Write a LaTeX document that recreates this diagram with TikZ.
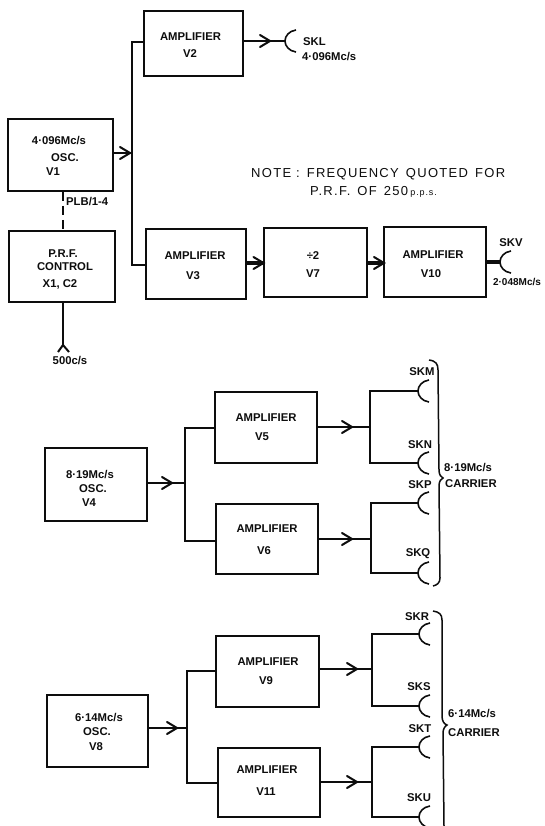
\documentclass[tikz,border=0pt]{standalone}
\usepackage{fontspec}
\setmainfont{Liberation Sans}
\tikzset{
  x=1pt,y=-1pt,
  box/.style={draw=ink,line width=1.7pt,fill=none,inner sep=0pt},
  lab/.style={inner sep=0pt,text=ink,font=\fontsize{11.3}{12}\selectfont\bfseries},
  llab/.style={lab,anchor=west},
  nlab/.style={inner sep=0pt,text=ink,anchor=west,font=\fontsize{13}{14}\selectfont\addfontfeature{LetterSpace=10}},
  wire/.style={draw=ink,line width=2.7pt,line join=miter},
  fat/.style={draw=ink,line width=4.2pt},
  thinl/.style={draw=ink,line width=1.5pt},
  socket/.pic={\draw[draw=ink,line width=1.6pt] (11,-11) .. controls (4,-10) and (0,-5) .. (0,0) .. controls (0,5) and (4,10) .. (11,11);},
  barb/.pic={\draw[draw=ink,line width=2pt,line cap=round] (-10,-6) -- (0,0) -- (-10,6);},
}
\definecolor{ink}{gray}{0.05}
\begin{document}
\begin{tikzpicture}
\useasboundingbox[fill=white] (0,0) rectangle (544,826);
% boxes
\node[box,minimum width=99pt,minimum height=65pt] (v2) at (193.5,43.5) {};
\node[box,minimum width=105pt,minimum height=72pt] (v1) at (60.5,155) {};
\node[box,minimum width=106pt,minimum height=71pt] (prf) at (62,266.5) {};
\node[box,minimum width=100pt,minimum height=70pt] (v3) at (196,264) {};
\node[box,minimum width=103pt,minimum height=69pt] (v7) at (315.5,262.5) {};
\node[box,minimum width=102pt,minimum height=70pt] (v10) at (435,262) {};
\node[box,minimum width=102pt,minimum height=73pt] (v4) at (96,484.5) {};
\node[box,minimum width=102pt,minimum height=71pt] (v5) at (266,427.5) {};
\node[box,minimum width=102pt,minimum height=70pt] (v6) at (267,539) {};
\node[box,minimum width=101pt,minimum height=72pt] (v8) at (97.5,731) {};
\node[box,minimum width=103pt,minimum height=71pt] (v9) at (267.5,671.5) {};
\node[box,minimum width=102pt,minimum height=69pt] (v11) at (269,782.5) {};
% box texts
\node[lab] (t2a) at (190.5,37) {AMPLIFIER};
\node[lab] (t2b) at (190,54) {V2};
\node[lab] (t1a) at (59,141) {4·096Mc/s};
\node[lab] (t1b) at (65,158) {OSC.};
\node[lab] (t1c) at (53,172) {V1};
\node[lab] (tpa) at (63,254) {P.R.F.};
\node[lab] (tpb) at (65,267) {CONTROL};
\node[lab] (tpc) at (60,284) {X1, C2};
\node[lab] (t3a) at (195,256) {AMPLIFIER};
\node[lab] (t3b) at (193,276) {V3};
\node[lab] (t7a) at (313,256) {÷2};
\node[lab] (t7b) at (313,274) {V7};
\node[lab] (t10a) at (433,255) {AMPLIFIER};
\node[lab] (t10b) at (431,274) {V10};
\node[lab] (t4a) at (90,475) {8·19Mc/s};
\node[lab] (t4b) at (93,489) {OSC.};
\node[lab] (t4c) at (89,503) {V4};
\node[lab] (t5a) at (266,418) {AMPLIFIER};
\node[lab] (t5b) at (262,437) {V5};
\node[lab] (t6a) at (267,529) {AMPLIFIER};
\node[lab] (t6b) at (264,551) {V6};
\node[lab] (t8a) at (99,718) {6·14Mc/s};
\node[lab] (t8b) at (97,732) {OSC.};
\node[lab] (t8c) at (96,747) {V8};
\node[lab] (t9a) at (268,662) {AMPLIFIER};
\node[lab] (t9b) at (266,681) {V9};
\node[lab] (t11a) at (267,770) {AMPLIFIER};
\node[lab] (t11b) at (266,792) {V11};
% other labels
\node[llab] (plb) at (66,202) {PLB/1-4};
\node[lab] (c500) at (70,361) {500c/s};
\node[llab] (skl) at (303,42) {SKL};
\node[llab] (f1) at (302,57) {4·096Mc/s};
\node[lab] (skv) at (511,243) {SKV};
\node[lab,font=\fontsize{10}{12}\selectfont\bfseries] (f2) at (517,282) {2·048Mc/s};
\node[nlab] (note1) at (251,174) {NOTE :\, FREQUENCY\, QUOTED\, FOR};
\node[nlab] (note2) at (310,192) {P.R.F.\, OF\, 250\,{\fontsize{9}{10}\selectfont p.p.s.}};
\node[lab] (lm) at (422,372) {SKM};
\node[lab] (ln) at (420,445) {SKN};
\node[lab] (lp) at (420,485) {SKP};
\node[lab] (lq) at (418,554) {SKQ};
\node[lab] (lr) at (417,617) {SKR};
\node[lab] (ls) at (419,687) {SKS};
\node[lab] (lt) at (420,729) {SKT};
\node[lab] (lu) at (419,798) {SKU};
\node[llab] (c8a) at (444,468) {8·19Mc/s};
\node[llab] (c8b) at (445,484) {CARRIER};
\node[llab] (c6a) at (448,714) {6·14Mc/s};
\node[llab] (c6b) at (448,733) {CARRIER};
% coordinates
\coordinate (sl) at (285,41);
\coordinate (sv) at (500,262);
\coordinate (sm) at (418,391);
\coordinate (sn) at (418,463);
\coordinate (sp) at (418,503);
\coordinate (sq) at (418,573);
\coordinate (sr) at (419,634);
\coordinate (ss) at (419,706);
\coordinate (st) at (419,747);
\coordinate (su) at (419,817);
\coordinate (ja) at (132,153);
\coordinate (jb) at (185,483);
\coordinate (jc) at (187,728);
\coordinate (jd) at (300,263);
\coordinate (ta) at (132,42);
\coordinate (tb) at (132,265);
\coordinate (tc) at (185,428);
\coordinate (td) at (185,541);
\coordinate (te) at (187,671);
\coordinate (tf) at (187,783);
\coordinate (ob) at (370,427);
\coordinate (oc) at (371,539);
\coordinate (od) at (372,669);
\coordinate (oe) at (372,782);
\coordinate (fork) at (63,345);
\coordinate (forkl) at (58,352);
\coordinate (forkr) at (69,352);
% top group
\draw[wire] (ta -| v2.west) -- (ta) -- (tb) -- (tb -| v3.west);
\draw[wire] (ja -| v1.east) -- (ja);
\draw[wire] (sl -| v2.east) -- (sl);
\draw[fat] (jd -| v3.east) -- (jd -| v7.west);
\draw[fat] (jd -| v7.east) -- (jd -| v10.west);
\draw[fat] (sv -| v10.east) -- (sv);
\draw[wire,dash pattern=on 9pt off 5pt] (v1.south -| fork) -- (prf.north -| fork);
\draw[wire] (prf.south -| fork) -- (fork);
\draw[draw=ink,line width=2pt] (forkl) -- (fork) -- (forkr);
% middle group
\draw[wire] (tc -| v5.west) -- (tc) -- (td) -- (td -| v6.west);
\draw[wire] (jb -| v4.east) -- (jb);
\draw[wire] (v5.east |- ob) -- (ob);
\draw[wire] (v6.east |- oc) -- (oc);
\draw[wire] (sm) -- (sm -| ob) -- (sn -| ob) -- (sn);
\draw[wire] (sp) -- (sp -| oc) -- (sq -| oc) -- (sq);
% lower group
\draw[wire] (te -| v9.west) -- (te) -- (tf) -- (tf -| v11.west);
\draw[wire] (jc -| v8.east) -- (jc);
\draw[wire] (v9.east |- od) -- (od);
\draw[wire] (v11.east |- oe) -- (oe);
\draw[wire] (sr) -- (sr -| od) -- (ss -| od) -- (ss);
\draw[wire] (st) -- (st -| oe) -- (su -| oe) -- (su);
% arrow barbs
\pic at (130,153) {barb};
\pic at (270,41) {barb};
\pic at (263.5,263) {barb};
\pic at (384,263) {barb};
\pic at (352,427) {barb};
\pic at (352,539) {barb};
\pic at (172,483) {barb};
\pic at (177,728) {barb};
\pic at (357,669) {barb};
\pic at (357,782) {barb};
% sockets
\pic at (sl) {socket};
\pic at (sv) {socket};
\pic at (sm) {socket};
\pic at (sn) {socket};
\pic at (sp) {socket};
\pic at (sq) {socket};
\pic at (sr) {socket};
\pic at (ss) {socket};
\pic at (st) {socket};
\pic at (su) {socket};
% braces
\draw[thinl] (429,360) .. controls (436,361) and (438,364) .. (438,370) -- (439,470) .. controls (439,475) and (441,477) .. (443,478) .. controls (441,479) and (439,481) .. (439,486) -- (440,578) .. controls (440,583) and (437,585) .. (433,586);
\draw[thinl] (433,611) .. controls (439,612) and (442,614) .. (442,620) -- (442,716) .. controls (442,721) and (444,724) .. (447,725) .. controls (445,726) and (443,729) .. (443,733) -- (444,826);
\end{tikzpicture}
\end{document}
